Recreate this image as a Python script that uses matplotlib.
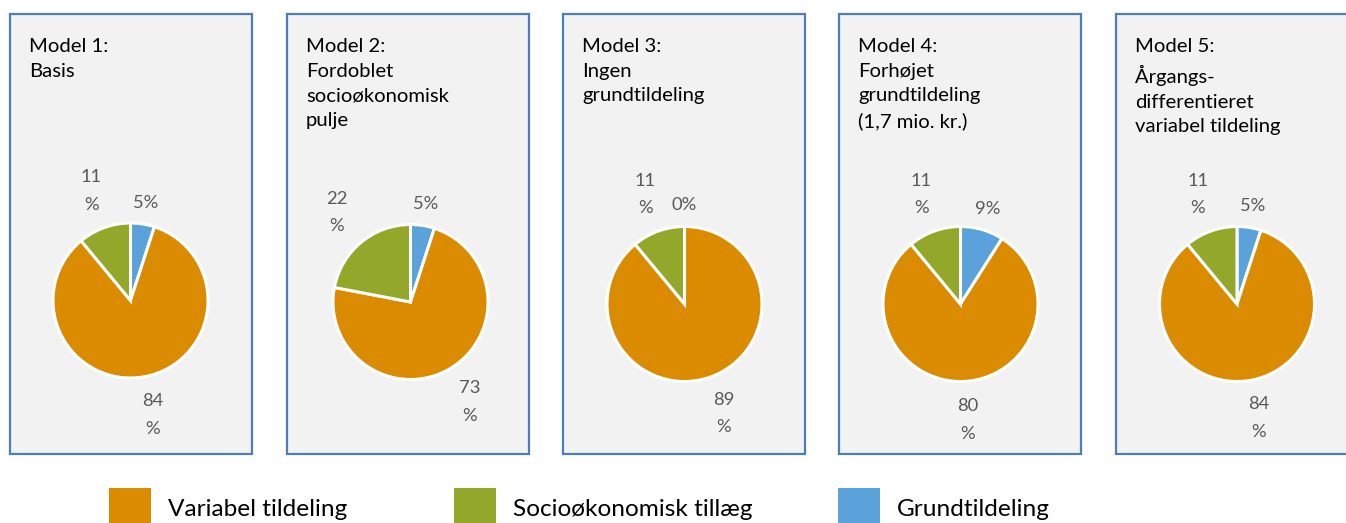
import matplotlib
matplotlib.use("Agg")
import matplotlib.pyplot as plt
from matplotlib.patches import Rectangle
import numpy as np

# ---- data ----
titles = [
    "Model 1:\nBasis",
    "Model 2:\nFordoblet\nsocioøkonomisk\npulje",
    "Model 3:\nIngen\ngrundtildeling",
    "Model 4:\nForhøjet\ngrundtildeling\n(1,7 mio. kr.)",
    "Model 5:\nÅrgangs-\ndifferentieret\nvariabel tildeling",
]
categories = ["Grundtildeling", "Variabel tildeling", "Socioøkonomisk tillæg"]
grund = [5, 5, 0, 9, 5]
variabel = [84, 73, 89, 80, 84]
socio = [11, 22, 11, 11, 11]
legend_order = ["Variabel tildeling", "Socioøkonomisk tillæg", "Grundtildeling"]

# ---- style ----
colors = {"Grundtildeling": "#5BA2DB", "Variabel tildeling": "#DA8B00",
          "Socioøkonomisk tillæg": "#93A82A"}
FONT = "Lato"
W, H = 1346, 523

fig = plt.figure(figsize=(W / 100, H / 100), dpi=100)
ax = fig.add_axes([0, 0, 1, 1])

panel_x = [10, 287, 563, 839, 1116]
panel_w = 242
panel_top, panel_bot = 14, 454
pie_cx = [130.5, 410.5, 684.5, 960.5, 1237]
pie_cy = [300.5, 302, 304, 304, 304]
R = 77.5

for i in range(5):
    ax.add_patch(Rectangle((panel_x[i], H - panel_bot), panel_w, panel_bot - panel_top,
                           facecolor="#F2F2F2", edgecolor="#4E7EB7", linewidth=1.6, zorder=0))
    ax.text(panel_x[i] + 19, H - 38, titles[i], ha="left", va="top", fontsize=14.6,
            family=FONT, color="#000000", linespacing=1.55, zorder=3)
    vals = [grund[i], variabel[i], socio[i]]
    cx, cy = pie_cx[i], H - pie_cy[i]
    wedges, _ = ax.pie(vals, colors=[colors[c] for c in categories], startangle=90,
                       counterclock=False, center=(cx, cy), radius=R,
                       wedgeprops=dict(edgecolor="white", linewidth=2.2))
    total = float(sum(vals))
    cum = 0.0
    for v in vals:
        mid = 90 - 360 * (cum + v / 2) / total
        cum += v
        lab = f"{v}\n%" if v >= 10 else f"{v}%"
        d = R * (1.5 if v >= 10 else 1.28)
        th = np.deg2rad(mid)
        ax.text(cx + d * np.cos(th), cy + d * np.sin(th), lab, ha="center", va="center",
                fontsize=13.2, family=FONT, color="#595959", linespacing=1.9, zorder=3)

# legend
leg_x = [109, 454, 838]
for name, lx in zip(legend_order, leg_x):
    ax.add_patch(Rectangle((lx, H - 530), 42, 42, facecolor=colors[name],
                           edgecolor="none", zorder=2))
    ax.text(lx + 59, H - 509, name, ha="left", va="center", fontsize=17.6,
            family=FONT, color="#000000")

ax.set_xlim(0, W)
ax.set_ylim(0, H)
ax.set_aspect("equal")
ax.axis("off")
fig.savefig("out.png", dpi=100, facecolor="white")
